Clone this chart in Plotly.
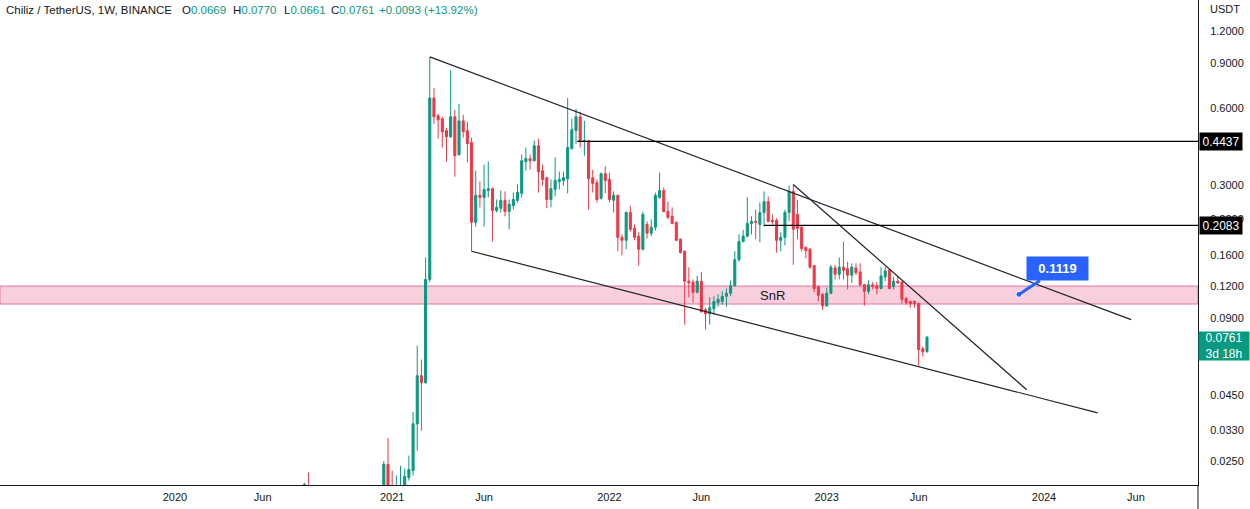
import numpy as np
import pandas as pd
import plotly.graph_objects as go

# ---------------- data ----------------
early_dates = ["2020-08-10", "2020-08-17"]
early_open = [0.0195, 0.0198]
early_high = [0.0205, 0.0225]
early_low = [0.0188, 0.0182]
early_close = [0.0202, 0.0190]

week_start = "2020-12-21"
opens = [0.0185, 0.0242, 0.0200, 0.0188, 0.0198, 0.0195, 0.0215, 0.0229, 0.0349, 0.0538,
         0.0505, 0.128, 0.656, 0.559, 0.544, 0.489, 0.463, 0.554, 0.394, 0.534,
         0.489, 0.439, 0.214, 0.273, 0.268, 0.285, 0.290, 0.238, 0.243, 0.261,
         0.236, 0.249, 0.261, 0.278, 0.370, 0.380, 0.373, 0.427, 0.341, 0.320,
         0.263, 0.288, 0.309, 0.312, 0.317, 0.416, 0.489, 0.554, 0.443, 0.447,
         0.320, 0.306, 0.266, 0.332, 0.315, 0.261, 0.273, 0.187, 0.182, 0.234,
         0.203, 0.189, 0.168, 0.210, 0.194, 0.205, 0.268, 0.285, 0.236, 0.226,
         0.214, 0.184, 0.165, 0.126, 0.125, 0.114, 0.126, 0.0974, 0.0940, 0.0983,
         0.104, 0.105, 0.110, 0.113, 0.121, 0.153, 0.180, 0.189, 0.212, 0.216,
         0.210, 0.234, 0.258, 0.218, 0.218, 0.182, 0.187, 0.234, 0.283, 0.230,
         0.205, 0.171, 0.168, 0.145, 0.120, 0.112, 0.101, 0.113, 0.142, 0.134,
         0.143, 0.141, 0.133, 0.142, 0.137, 0.122, 0.115, 0.122, 0.121, 0.118,
         0.131, 0.139, 0.120, 0.126, 0.125, 0.108, 0.105, 0.105, 0.103, 0.0686,
         0.0669]
highs = [0.0249, 0.0307, 0.0229, 0.0219, 0.0239, 0.0233, 0.0262, 0.0388, 0.0705, 0.0622,
         0.156, 0.950, 0.718, 0.569, 0.554, 0.502, 0.844, 0.590, 0.621, 0.564,
         0.530, 0.459, 0.341, 0.309, 0.360, 0.370, 0.293, 0.263, 0.285, 0.283,
         0.263, 0.280, 0.301, 0.394, 0.420, 0.394, 0.447, 0.455, 0.360, 0.323,
         0.315, 0.384, 0.338, 0.338, 0.656, 0.544, 0.595, 0.580, 0.534, 0.450,
         0.344, 0.315, 0.335, 0.355, 0.335, 0.283, 0.275, 0.192, 0.236, 0.249,
         0.210, 0.196, 0.236, 0.216, 0.220, 0.280, 0.335, 0.293, 0.258, 0.245,
         0.216, 0.185, 0.166, 0.143, 0.128, 0.132, 0.137, 0.0992, 0.109, 0.110,
         0.112, 0.115, 0.118, 0.127, 0.165, 0.192, 0.200, 0.268, 0.226, 0.240,
         0.256, 0.283, 0.270, 0.230, 0.222, 0.196, 0.240, 0.298, 0.301, 0.262,
         0.208, 0.172, 0.170, 0.146, 0.121, 0.113, 0.119, 0.146, 0.146, 0.156,
         0.180, 0.150, 0.148, 0.148, 0.148, 0.123, 0.127, 0.125, 0.125, 0.143,
         0.143, 0.141, 0.131, 0.132, 0.126, 0.109, 0.106, 0.106, 0.104, 0.0698,
         0.0770]
lows = [0.0175, 0.0180, 0.0170, 0.0178, 0.0185, 0.0190, 0.0209, 0.0219, 0.0274, 0.0328,
        0.0500, 0.125, 0.520, 0.455, 0.420, 0.370, 0.458, 0.323, 0.390, 0.459,
        0.367, 0.165, 0.206, 0.245, 0.206, 0.268, 0.180, 0.234, 0.234, 0.226,
        0.201, 0.240, 0.256, 0.268, 0.341, 0.344, 0.370, 0.280, 0.298, 0.243,
        0.245, 0.270, 0.288, 0.298, 0.278, 0.412, 0.435, 0.420, 0.390, 0.240,
        0.280, 0.256, 0.263, 0.278, 0.256, 0.234, 0.165, 0.159, 0.168, 0.197,
        0.182, 0.145, 0.166, 0.185, 0.189, 0.199, 0.265, 0.234, 0.220, 0.210,
        0.181, 0.162, 0.0852, 0.109, 0.104, 0.113, 0.0950, 0.0815, 0.0852, 0.0932,
        0.100, 0.102, 0.100, 0.110, 0.120, 0.150, 0.179, 0.187, 0.192, 0.184,
        0.179, 0.206, 0.214, 0.210, 0.163, 0.165, 0.174, 0.216, 0.146, 0.184,
        0.165, 0.155, 0.141, 0.114, 0.105, 0.0974, 0.100, 0.112, 0.128, 0.128,
        0.128, 0.117, 0.124, 0.133, 0.120, 0.101, 0.112, 0.117, 0.112, 0.117,
        0.126, 0.117, 0.117, 0.123, 0.103, 0.102, 0.0992, 0.0992, 0.0589, 0.0639,
        0.0661]
closes = [0.0242, 0.0190, 0.0188, 0.0198, 0.0200, 0.0217, 0.0231, 0.0349, 0.0538, 0.0505,
          0.128, 0.656, 0.554, 0.539, 0.484, 0.463, 0.554, 0.390, 0.534, 0.484,
          0.435, 0.214, 0.273, 0.268, 0.288, 0.290, 0.238, 0.245, 0.261, 0.236,
          0.252, 0.263, 0.280, 0.373, 0.380, 0.373, 0.427, 0.338, 0.315, 0.263,
          0.290, 0.312, 0.315, 0.320, 0.420, 0.493, 0.554, 0.443, 0.447, 0.317,
          0.304, 0.263, 0.332, 0.312, 0.263, 0.273, 0.187, 0.182, 0.234, 0.201,
          0.187, 0.168, 0.230, 0.194, 0.205, 0.273, 0.285, 0.236, 0.224, 0.212,
          0.182, 0.163, 0.126, 0.124, 0.114, 0.126, 0.0957, 0.0940, 0.0992, 0.105,
          0.107, 0.110, 0.113, 0.121, 0.153, 0.180, 0.189, 0.212, 0.216, 0.214,
          0.234, 0.258, 0.216, 0.216, 0.182, 0.187, 0.234, 0.283, 0.201, 0.203,
          0.169, 0.166, 0.143, 0.118, 0.111, 0.101, 0.113, 0.143, 0.134, 0.143,
          0.139, 0.133, 0.143, 0.136, 0.122, 0.115, 0.122, 0.120, 0.118, 0.132,
          0.138, 0.118, 0.126, 0.124, 0.107, 0.104, 0.103, 0.103, 0.0680, 0.0668,
          0.0761]

main_dates = [d.strftime("%Y-%m-%d") for d in pd.date_range(week_start, periods=len(opens), freq="7D")]
dates = early_dates + main_dates
o = early_open + opens
h = early_high + highs
l = early_low + lows
c = early_close + closes

# drawings
upper_line_dates = ["2021-03-08", "2024-05-26"]
upper_line_prices = [0.95, 0.0891]
lower_line_dates = ["2021-05-17", "2024-03-31"]
lower_line_prices = [0.165, 0.0385]
apex_line_dates = ["2022-11-07", "2023-12-03"]
apex_line_prices = [0.301, 0.0474]
level_1 = 0.4437
level_1_start = "2021-11-10"
level_2 = 0.2083
level_2_start = "2022-09-19"
snr_low, snr_high = 0.1026, 0.1206
callout_date, callout_price = "2023-11-20", 0.1119
last_price = 0.0761

x_range = ["2019-03-19", "2024-09-15"]
y_range = [0.0201, 1.586]
xtick_vals = ["2020-01-06", "2020-06-01", "2021-01-04", "2021-06-07", "2022-01-03",
              "2022-06-06", "2023-01-02", "2023-06-05", "2024-01-01", "2024-06-03"]
xtick_text = ["2020", "Jun", "2021", "Jun", "2022", "Jun", "2023", "Jun", "2024", "Jun"]
ytick_vals = [1.2, 0.9, 0.6, 0.3, 0.22, 0.16, 0.12, 0.09, 0.045, 0.033, 0.025]
ytick_text = ["1.2000", "0.9000", "0.6000", "0.3000", "0.2200", "0.1600", "0.1200",
              "0.0900", "0.0450", "0.0330", "0.0250"]

GREEN = "#089981"
RED = "#f23645"
INK = "#131722"
FONT = "Liberation Sans"

fig = go.Figure()

fig.add_trace(go.Candlestick(
    x=dates, open=o, high=h, low=l, close=c,
    increasing=dict(line=dict(color=GREEN, width=1), fillcolor=GREEN),
    decreasing=dict(line=dict(color=RED, width=1), fillcolor=RED),
    whiskerwidth=0, hoverinfo="skip"))

line_style = dict(color="#1e222d", width=1.2)
for xs, ys in [(upper_line_dates, upper_line_prices),
               (lower_line_dates, lower_line_prices),
               (apex_line_dates, apex_line_prices)]:
    fig.add_trace(go.Scatter(x=xs, y=ys, mode="lines", line=line_style, hoverinfo="skip"))

for start, lvl in [(level_1_start, level_1), (level_2_start, level_2)]:
    fig.add_trace(go.Scatter(x=[start, x_range[1]], y=[lvl, lvl], mode="lines",
                             line=dict(color="#000000", width=1.3), hoverinfo="skip",
                             cliponaxis=False))

fig.add_trace(go.Scatter(x=[callout_date], y=[callout_price], mode="markers",
                         marker=dict(size=6, color="#2962ff", line=dict(color="white", width=1)),
                         hoverinfo="skip"))

PLOT_W = 1198
PLOT_H = 485
HEAD_SIZE = 11.5
ann = []
ann.append(dict(xref="paper", yref="paper", x=4 / PLOT_W, y=1 - 10 / PLOT_H, xanchor="left",
                yanchor="middle", showarrow=False, text="Chiliz / TetherUS, 1W, BINANCE",
                font=dict(family=FONT, size=HEAD_SIZE, color=INK)))
ohlc_parts = [(180, "O", "0.0669"), (231, "H", "0.0770"), (282, "L", "0.0661"), (329, "C", "0.0761")]
for px, letter, val in ohlc_parts:
    ann.append(dict(xref="paper", yref="paper", x=px / PLOT_W, y=1 - 10 / PLOT_H, xanchor="left",
                    yanchor="middle", showarrow=False,
                    text=f"{letter}<span style='color:{GREEN}'>{val}</span>",
                    font=dict(family=FONT, size=HEAD_SIZE, color=INK)))
ann.append(dict(xref="paper", yref="paper", x=377 / PLOT_W, y=1 - 10 / PLOT_H, xanchor="left",
                yanchor="middle", showarrow=False, text="+0.0093 (+13.92%)",
                font=dict(family=FONT, size=HEAD_SIZE, color=GREEN)))

ann.append(dict(xref="paper", yref="paper", x=1, xshift=10, y=1 - 9 / PLOT_H, xanchor="left",
                yanchor="middle", showarrow=False, text="USDT",
                font=dict(family=FONT, size=11, color=INK)))

for lvl in [level_1, level_2]:
    ann.append(dict(xref="paper", yref="y", x=1, xshift=1, y=np.log10(lvl), xanchor="left",
                    yanchor="middle", showarrow=False, text=f"{lvl:.4f}",
                    bgcolor="#000000", width=40, height=15, borderpad=1,
                    font=dict(family=FONT, size=12, color="white")))

ann.append(dict(xref="paper", yref="y", x=1, xshift=0, y=np.log10(last_price), yshift=-9,
                xanchor="left", yanchor="middle", showarrow=False,
                text=f"{last_price:.4f}<br>3d 18h", align="center",
                bgcolor=GREEN, width=48, height=26, borderpad=1,
                font=dict(family=FONT, size=12, color="white")))

ann.append(dict(x=callout_date, y=np.log10(callout_price), xref="x", yref="y",
                text=f"<b>{callout_price:.4f}</b>", showarrow=True, arrowhead=0,
                arrowwidth=3, arrowcolor="#2962ff", ax=39, ay=-26,
                bgcolor="#2962ff", width=55, height=17, borderpad=3,
                font=dict(family=FONT, size=13, color="white")))

ann.append(dict(x="2022-10-03", y=np.log10(0.1108), xref="x", yref="y", text="SnR",
                showarrow=False, font=dict(family=FONT, size=13, color=INK)))

shapes = [
    dict(type="rect", xref="paper", yref="y", x0=0, x1=1, y0=snr_low, y1=snr_high,
         fillcolor="#f9cfde", line=dict(color="#e2769c", width=1), layer="below"),
    dict(type="line", xref="paper", yref="paper", x0=1, x1=1, y0=-24 / PLOT_H, y1=0,
         line=dict(color=INK, width=1)),
]

fig.update_layout(
    width=1250, height=509,
    margin=dict(l=0, r=52, t=0, b=24),
    paper_bgcolor="white", plot_bgcolor="white",
    showlegend=False,
    annotations=ann,
    shapes=shapes,
    xaxis=dict(type="date", range=x_range, tickvals=xtick_vals, ticktext=xtick_text,
               showgrid=False, zeroline=False, showline=True, linecolor=INK, linewidth=1,
               ticks="", tickfont=dict(family=FONT, size=11, color=INK), ticklabelstandoff=2,
               rangeslider=dict(visible=False), fixedrange=True),
    yaxis=dict(type="log", side="right", range=[np.log10(y_range[0]), np.log10(y_range[1])],
               tickvals=ytick_vals, ticktext=ytick_text, showgrid=False, zeroline=False,
               showline=True, linecolor=INK, linewidth=1, ticks="",
               tickfont=dict(family=FONT, size=11, color=INK), ticklabelstandoff=9,
               fixedrange=True),
)

fig.write_html("out.html")
